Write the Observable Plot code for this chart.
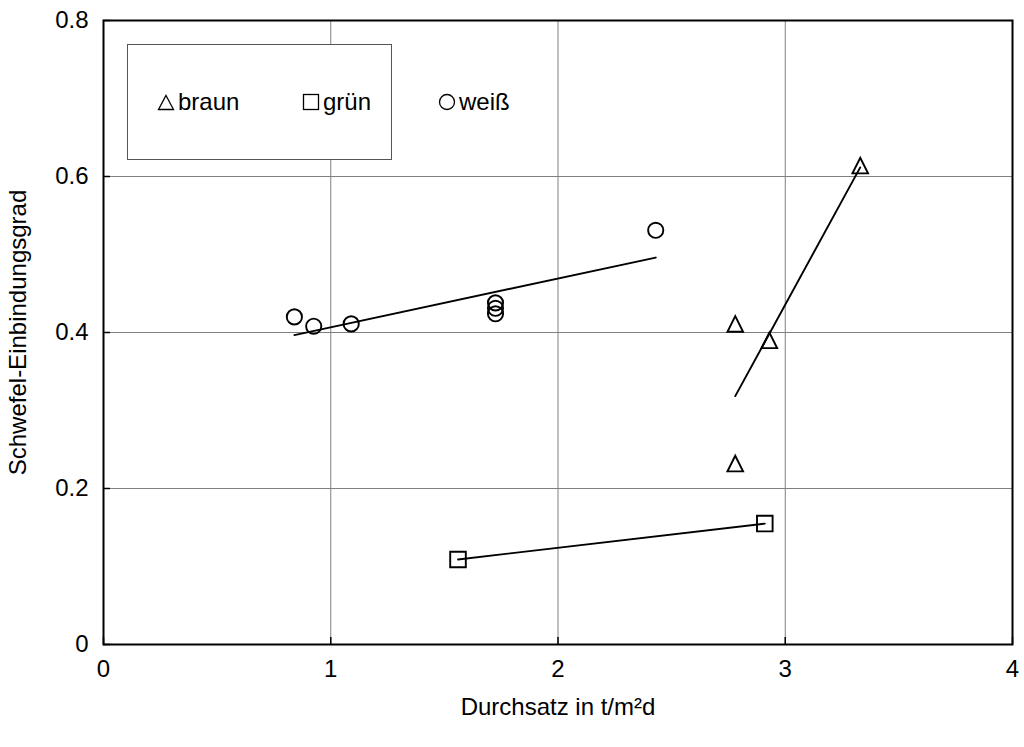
<!DOCTYPE html>
<html>
<head>
<meta charset="utf-8">
<script src="https://cdn.jsdelivr.net/npm/d3@7"></script>
<script src="https://cdn.jsdelivr.net/npm/@observablehq/plot@0.6"></script>
<style>
  html, body { margin: 0; padding: 0; background: #fff; }
  #wrap { position: relative; width: 1024px; height: 747px; font-family: "Liberation Sans", Arial, sans-serif; }
  #legend { position: absolute; left: 127px; top: 44px; width: 265px; height: 116px; border: 1px solid #555; background: #fff; box-sizing: border-box; }
  .item { position: absolute; top: 0; height: 100%; display: flex; align-items: center; font-size: 24px; color: #000; }
  .item svg { margin-right: 3px; }
</style>
</head>
<body>
<div id="wrap"></div>
<script>
// ---- data ----
const braunX = [2.78, 2.93, 2.78, 3.33];
const braunY = [0.411, 0.390, 0.232, 0.614];
const gruenX = [1.56, 2.91];
const gruenY = [0.109, 0.155];
const weissX = [0.84, 0.925, 1.09, 1.725, 1.725, 1.725, 2.43];
const weissY = [0.420, 0.408, 0.411, 0.438, 0.431, 0.424, 0.531];
const seriesNames = ["braun", "grün", "weiß"];
const xTicks = [0, 1, 2, 3, 4];
const yTicks = [0, 0.2, 0.4, 0.6, 0.8];
const xLabel = "Durchsatz in t/m²d";
const yLabel = "Schwefel-Einbindungsgrad";

const toRows = (xs, ys) => xs.map((x, i) => ({x, y: ys[i]}));
const braun = toRows(braunX, braunY);
const gruen = toRows(gruenX, gruenY);
const weiss = toRows(weissX, weissY);

// custom Excel-like symbols (bbox-centred)
const triSym = { draw(ctx, size) { const r = Math.sqrt(size / Math.PI); ctx.moveTo(0, -r); ctx.lineTo(r, r); ctx.lineTo(-r, r); ctx.closePath(); } };
const sqSym = { draw(ctx, size) { const r = Math.sqrt(size / Math.PI); ctx.rect(-r, -r, 2 * r, 2 * r); } };

const FS = 24;
const font = '"Liberation Sans", Arial, sans-serif';
const mk = {stroke: "black", strokeWidth: 1.9, fill: "none"};

const plot = Plot.plot({
  width: 1024,
  height: 747,
  marginLeft: 103,
  marginRight: 12,
  marginTop: 20,
  marginBottom: 103,
  style: {fontFamily: font, fontSize: FS + "px", background: "white", color: "black"},
  x: {domain: [0, 4]},
  y: {domain: [0, 0.8]},
  marks: [
    Plot.gridX(xTicks, {stroke: "#808080", strokeOpacity: 1, strokeWidth: 1}),
    Plot.gridY(yTicks, {stroke: "#808080", strokeOpacity: 1, strokeWidth: 1}),
    Plot.axisX({ticks: xTicks, tickSize: -7, tickFormat: () => "", label: null, strokeWidth: 1.5}),
    Plot.axisY({ticks: yTicks, tickSize: -7, tickFormat: () => "", label: null, strokeWidth: 1.5}),
    Plot.axisX({ticks: xTicks, tickSize: 0, tickPadding: 15, fontSize: FS, label: null, tickFormat: d => String(d)}),
    Plot.axisY({ticks: yTicks, tickSize: 0, tickPadding: 15, fontSize: FS, label: null, tickFormat: d => d === 0 ? "0" : d.toFixed(1)}),
    Plot.frame({stroke: "black", strokeWidth: 2}),
    Plot.text([xLabel], {frameAnchor: "bottom", dy: 70, fontSize: FS, textAnchor: "middle", text: d => d}),
    Plot.text([yLabel], {frameAnchor: "left", dx: -85, rotate: -90, fontSize: FS, textAnchor: "middle", text: d => d}),
    Plot.dot(braun, {x: "x", y: "y", symbol: triSym, r: 7.8, ...mk}),
    Plot.dot(gruen, {x: "x", y: "y", symbol: sqSym, r: 7.8, ...mk}),
    Plot.dot(weiss, {x: "x", y: "y", symbol: "circle", r: 7.6, ...mk}),
    Plot.linearRegressionY(braun, {x: "x", y: "y", stroke: "black", strokeWidth: 1.9, ci: 0}),
    Plot.linearRegressionY(gruen, {x: "x", y: "y", stroke: "black", strokeWidth: 1.9, ci: 0}),
    Plot.linearRegressionY(weiss, {x: "x", y: "y", stroke: "black", strokeWidth: 1.9, ci: 0})
  ]
});

const wrap = document.getElementById("wrap");
wrap.appendChild(plot);

// legend overlay inside the plot area
const legend = document.createElement("div");
legend.id = "legend";
const icons = [
  '<svg width="18" height="17" viewBox="0 0 18 17"><path d="M9 1.5 L16.5 15.5 L1.5 15.5 Z" fill="none" stroke="black" stroke-width="1.3"/></svg>',
  '<svg width="18" height="18" viewBox="0 0 18 18"><rect x="1.5" y="1.5" width="15" height="15" fill="none" stroke="black" stroke-width="1.3"/></svg>',
  '<svg width="18" height="18" viewBox="0 0 18 18"><circle cx="9" cy="9" r="7.5" fill="none" stroke="black" stroke-width="1.3"/></svg>'
];
const lefts = [29, 174, 310];
seriesNames.forEach((name, i) => {
  const it = document.createElement("div");
  it.className = "item";
  it.style.left = lefts[i] + "px";
  it.innerHTML = icons[i] + "<span>" + name + "</span>";
  legend.appendChild(it);
});
wrap.appendChild(legend);
</script>
</body>
</html>
